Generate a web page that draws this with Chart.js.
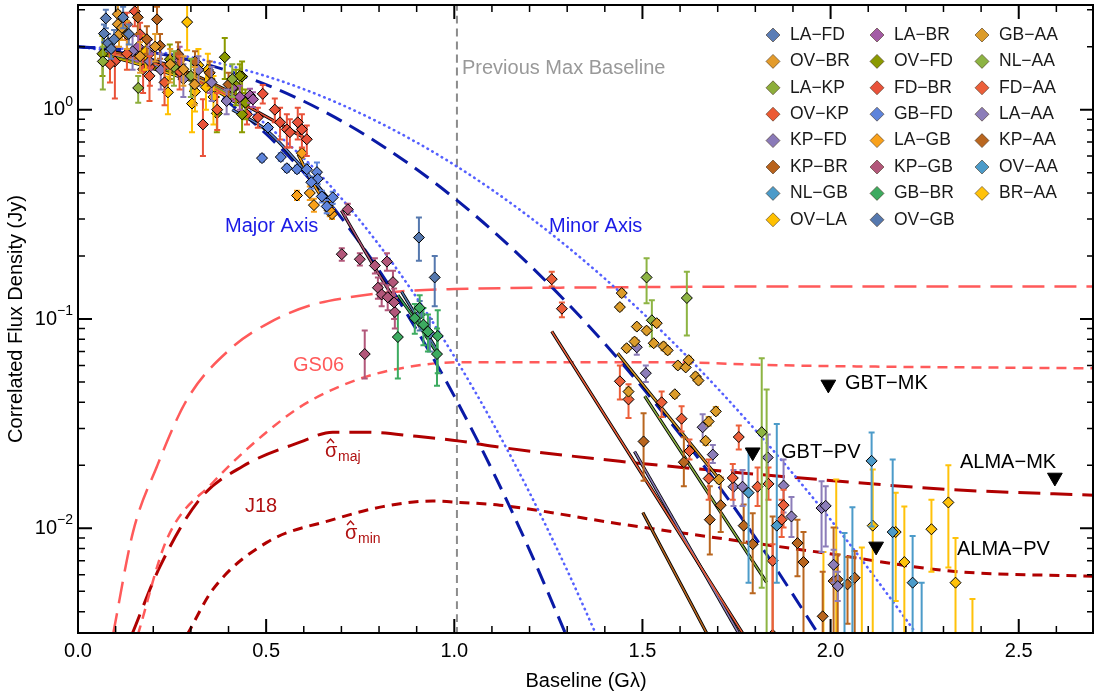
<!DOCTYPE html>
<html>
<head>
<meta charset="utf-8">
<script src="https://cdn.jsdelivr.net/npm/chart.js@4.4.0/dist/chart.umd.min.js"></script>
<style>
  html, body { margin: 0; padding: 0; background: #fff; }
  #wrap { width: 1094px; height: 694px; }
</style>
</head>
<body>
<div id="wrap"><canvas id="flux" width="1094" height="694"></canvas></div>
<script>
// ---------- data: [baseline (Gλ), flux (Jy), bar low, bar high] ----------
const LA_FD = [[0.074,2.73,2.45,3.0],[0.069,2.31,2.1,2.55],[0.080,2.08,1.9,2.3],[0.120,2.76,2.45,3.1],[0.096,2.17,1.95,2.4],[0.088,1.95,1.75,2.15],[0.135,2.30,2.05,2.55]];
const OV_BR = [[0.106,2.86,2.4,3.4],[0.106,2.56,2.2,2.95],[0.109,2.29,2.0,2.6],[0.117,2.46,2.15,2.8],[0.130,2.29,1.95,2.65],[0.205,2.00,1.7,2.3],[0.245,1.65,1.35,1.95],[0.280,1.56,1.3,1.8],[0.165,1.80,1.5,2.1],[0.310,1.32,1.05,1.6]];
const LA_KP = [[0.066,1.70,1.25,2.0],[0.160,1.27,1.08,1.45],[0.300,1.45,1.15,1.75],[0.255,1.60,1.3,1.9],[0.410,1.40,1.15,1.65]];
const OV_KP = [[0.085,1.65,1.35,1.95],[0.130,1.85,1.55,2.15],[0.190,1.45,1.1,1.8],[0.230,1.35,1.05,1.65],[0.370,1.00,0.8,1.2],[0.270,1.52,1.25,1.8]];
const KP_FD = [[0.145,1.90,1.55,2.25],[0.190,1.70,1.4,2.0],[0.220,1.55,1.25,1.85],[0.280,1.40,1.15,1.65],[0.320,1.55,1.3,1.8],[0.395,1.10,0.95,1.25],[0.355,1.35,1.1,1.6]];
const KP_BR = [[0.210,2.70,2.3,3.1],[0.159,2.76,2.3,3.3],[0.183,2.17,1.85,2.5],[0.218,2.02,1.75,2.3],[0.266,1.84,1.6,2.1],[0.311,1.70,1.5,1.9],[0.350,1.50,1.3,1.7],[0.400,1.32,1.15,1.5]];
const NL_GB = [[1.782,0.0148,0.0055,0.0238],[1.857,0.0103,0.0055,0.0315],[2.037,0.0028,0.001,0.0095],[2.058,0.0028,0.001,0.0126]];
const OV_LA = [[0.290,2.62,1.92,3.5],[0.239,1.21,0.95,1.44],[0.303,1.07,0.78,1.23],[0.311,1.22,0.98,1.45],[0.320,1.63,1.3,1.95],[0.345,1.55,1.25,1.85],[0.340,1.28,1.0,1.55],[0.360,1.15,0.85,1.45],[0.180,1.90,1.55,2.25]];
const LA_BR = [[0.160,2.00,1.7,2.3],[0.190,1.85,1.55,2.15],[0.270,1.72,1.45,2.0],[0.350,1.40,1.2,1.6],[0.410,1.27,1.1,1.45],[0.430,1.15,1.0,1.3],[0.457,1.17,1.08,1.26],[0.465,1.12,1.03,1.21]];
const OV_FD = [[0.390,1.78,1.4,2.2],[0.436,1.44,1.2,1.7],[0.369,0.96,0.78,1.15],[0.436,0.95,0.78,1.12],[0.244,1.74,1.4,2.05],[0.065,1.85,1.45,2.25],[0.420,1.30,1.05,1.55],[0.445,1.08,0.9,1.25],[0.430,1.45,1.25,1.65]];
const FD_BR = [[0.151,2.95,2.5,3.4],[0.130,2.56,2.2,2.9],[0.165,2.29,1.95,2.6],[0.173,1.56,1.2,1.9],[0.191,1.60,1.3,1.9],[0.098,1.70,1.13,2.0],[0.332,0.85,0.6,1.12],[0.449,0.95,0.85,1.1],[0.478,0.92,0.82,1.02],[0.491,1.19,1.07,1.31],[0.523,1.00,0.87,1.13],[0.537,0.87,0.72,1.02],[0.555,0.805,0.66,0.95],[0.563,0.78,0.66,0.9],[0.584,0.87,0.72,1.02],[0.595,0.805,0.66,0.95],[0.608,0.722,0.6,0.84]];
const GB_FD = [[0.489,0.587,0.565,0.61],[0.539,0.594,0.57,0.62],[0.555,0.525,0.505,0.545],[0.582,0.519,0.5,0.54],[0.608,0.519,0.49,0.55],[0.635,0.503,0.45,0.56],[0.637,0.467,0.44,0.495],[0.648,0.385,0.36,0.41],[0.677,0.381,0.355,0.405],[0.661,0.345,0.32,0.37],[0.505,0.822,0.79,0.85],[0.620,0.450,0.42,0.48]];
const LA_GB = [[0.595,0.62,0.59,0.65],[0.616,0.40,0.37,0.43],[0.582,0.389,0.37,0.41],[0.627,0.35,0.325,0.375],[0.664,0.345,0.325,0.365],[0.675,0.317,0.3,0.335],[0.669,0.33,0.31,0.35]];
const KP_GB = [[0.717,0.334,0.315,0.355],[0.701,0.204,0.19,0.218],[0.749,0.193,0.18,0.206],[0.789,0.180,0.165,0.195],[0.821,0.188,0.17,0.206],[0.797,0.141,0.125,0.158],[0.807,0.131,0.115,0.148],[0.823,0.127,0.11,0.145],[0.837,0.150,0.13,0.17],[0.842,0.108,0.09,0.126],[0.762,0.068,0.052,0.088],[0.840,0.120,0.1,0.14]];
const GB_BR = [[0.850,0.082,0.052,0.108],[0.895,0.101,0.085,0.118],[0.908,0.113,0.095,0.13],[0.930,0.087,0.07,0.105],[0.956,0.083,0.055,0.11],[0.954,0.068,0.048,0.09],[0.918,0.094,0.075,0.113]];
const OV_GB = [[0.906,0.245,0.19,0.305],[0.948,0.158,0.115,0.2],[0.908,0.105,0.088,0.122],[0.935,0.085,0.07,0.1]];
const GB_AA = [[1.445,0.133,0.128,0.138],[1.440,0.114,0.11,0.118],[1.485,0.092,0.089,0.095],[1.511,0.088,0.085,0.091],[1.479,0.078,0.075,0.081],[1.458,0.0725,0.07,0.075],[1.530,0.0766,0.074,0.079],[1.538,0.0955,0.092,0.099],[1.556,0.074,0.071,0.077],[1.567,0.0708,0.068,0.073],[1.594,0.060,0.058,0.062],[1.615,0.0587,0.057,0.061],[1.623,0.0636,0.061,0.066],[1.641,0.0532,0.051,0.055],[1.649,0.0508,0.049,0.053],[1.586,0.0437,0.042,0.045],[1.695,0.0362,0.035,0.038],[1.676,0.0324,0.031,0.034],[1.463,0.045,0.043,0.047],[1.668,0.0262,0.025,0.027],[1.703,0.0171,0.0165,0.0178]];
const NL_AA = [[1.511,0.158,0.119,0.195],[1.525,0.0986,0.074,0.123],[1.618,0.126,0.0834,0.168],[1.817,0.0288,0.0052,0.065],[1.830,0.0026,0.0005,0.046]];
const FD_AA = [[1.259,0.155,0.143,0.168],[1.286,0.112,0.102,0.120],[1.440,0.0504,0.0413,0.060],[1.463,0.0413,0.0337,0.0488],[1.551,0.040,0.034,0.045],[1.604,0.0334,0.029,0.0383],[1.625,0.0234,0.0213,0.0266],[1.676,0.0173,0.0137,0.0213],[1.740,0.0174,0.0137,0.0203],[1.756,0.0273,0.0238,0.031],[1.806,0.0158,0.0128,0.0195],[1.835,0.0163,0.0137,0.0195],[1.846,0.0070,0.0029,0.0084],[1.870,0.0110,0.0091,0.0137],[1.875,0.0129,0.0101,0.0153]];
const LA_AA = [[1.485,0.0733,0.0675,0.079],[1.509,0.0551,0.050,0.060],[1.660,0.0304,0.026,0.0351],[1.687,0.0225,0.0205,0.025],[1.742,0.0158,0.0128,0.019],[1.766,0.0158,0.0128,0.019],[1.833,0.0218,0.0168,0.0281],[1.875,0.016,0.0119,0.0213],[1.896,0.0114,0.0091,0.0141],[1.976,0.0125,0.0077,0.0168],[1.987,0.0128,0.0082,0.0159],[2.008,0.0067,0.0055,0.0079],[2.019,0.0053,0.0045,0.0062]];
const KP_AA = [[1.503,0.026,0.0169,0.0355],[1.610,0.0207,0.0159,0.0272],[1.679,0.011,0.0075,0.0159],[1.708,0.0129,0.0096,0.0175],[1.769,0.0103,0.0085,0.013],[1.793,0.0084,0.0049,0.0118],[1.912,0.0085,0.0059,0.011],[1.928,0.0069,0.003,0.0096],[1.846,0.0031,0.001,0.0114],[1.979,0.0038,0.002,0.0062],[2.008,0.0056,0.002,0.0101],[2.019,0.0057,0.002,0.0075],[2.045,0.0054,0.0035,0.0073],[2.064,0.0058,0.003,0.0078]];
const OV_AA = [[2.109,0.021,0.0102,0.0287],[2.165,0.0096,0.002,0.0213],[2.218,0.0055,0.002,0.0092],[2.242,0.0028,0.001,0.0055]];
const BR_AA = [[2.112,0.0103,0.002,0.0191],[2.173,0.0096,0.0045,0.0148],[2.196,0.0069,0.002,0.0127],[2.268,0.0099,0.0062,0.0137],[2.313,0.0133,0.0065,0.020],[2.332,0.0055,0.002,0.009],[1.981,0.0028,0.001,0.0077],[2.083,0.0028,0.001,0.0081],[2.377,0.0028,0.001,0.0046],[2.015,0.0028,0.001,0.0171]];

const baselineNames = ['LA−FD','OV−BR','LA−KP','OV−KP','KP−FD','KP−BR','NL−GB','OV−LA',
                       'LA−BR','OV−FD','FD−BR','GB−FD','LA−GB','KP−GB','GB−BR','OV−GB',
                       'GB−AA','NL−AA','FD−AA','LA−AA','KP−AA','OV−AA','BR−AA'];
const baselineColors = ['#5b7db5','#e39b2b','#8dae3b','#ec5a33','#8a7ab8','#b8631d','#4c9bc9','#ffc000',
                        '#a35ba5','#8b9a00','#e9523a','#5e84db','#f9a11b','#b2577a','#3dab60','#5578ae',
                        '#dc9c2a','#8db443','#ec5f3a','#8c7db9','#b9661f','#4c9bc9','#ffc20a'];
const baselinePoints = [LA_FD, OV_BR, LA_KP, OV_KP, KP_FD, KP_BR, NL_GB, OV_LA,
                        LA_BR, OV_FD, FD_BR, GB_FD, LA_GB, KP_GB, GB_BR, OV_GB,
                        GB_AA, NL_AA, FD_AA, LA_AA, KP_AA, OV_AA, BR_AA];

// per-baseline model tracks [baseline, flux]
const trackFDBR = [[0.06,1.90],[0.18,1.72],[0.30,1.42],[0.40,1.16],[0.48,0.97],[0.61,0.72]];
const trackKPBR = [[0.06,1.93],[0.18,1.76],[0.30,1.49],[0.42,1.18]];
const trackOVBR = [[0.06,1.88],[0.18,1.70],[0.30,1.45],[0.40,1.17]];
const trackOVFD = [[0.06,1.85],[0.20,1.60],[0.36,1.30],[0.45,1.02]];
const trackOVLA = [[0.07,1.83],[0.20,1.57],[0.36,1.25],[0.42,1.08]];
const trackKPFD = [[0.08,1.86],[0.20,1.63],[0.33,1.38],[0.42,1.15]];
const trackGBFD = [[0.41,1.00],[0.50,0.80],[0.58,0.57],[0.68,0.35]];
const trackLAGB = [[0.585,0.61],[0.62,0.46],[0.675,0.32]];
const trackKPGB = [[0.70,0.33],[0.77,0.20],[0.84,0.125]];
const trackGBBR = [[0.85,0.13],[0.90,0.097],[0.956,0.068]];
const trackOVGB = [[0.86,0.135],[0.956,0.07]];
const trackFDAA = [[1.259,0.0873],[1.769,0.0031]];
const trackLAAA = [[1.479,0.0233],[1.758,0.0031]];
const trackKPAA = [[1.501,0.0119],[1.673,0.0031]];
const trackGBAA = [[1.434,0.0686],[1.705,0.0171]];
const trackNLAA = [[1.506,0.0428],[1.830,0.00552]];
const trackList = [[trackFDBR,'FD−BR'],[trackKPBR,'KP−BR'],[trackOVBR,'OV−BR'],[trackOVFD,'OV−FD'],[trackOVLA,'OV−LA'],
                   [trackKPFD,'KP−FD'],[trackGBFD,'GB−FD'],[trackLAGB,'LA−GB'],[trackKPGB,'KP−GB'],[trackGBBR,'GB−BR'],
                   [trackOVGB,'OV−GB'],[trackFDAA,'FD−AA'],[trackLAAA,'LA−AA'],[trackKPAA,'KP−AA'],[trackGBAA,'GB−AA'],[trackNLAA,'NL−AA']];

// source models
const majorDash = [[0,2.0],[0.1,1.923],[0.2,1.715],[0.3,1.415],[0.4,1.081],[0.5,0.765],[0.6,0.501],[0.7,0.304],[0.8,0.171],[0.9,0.0887],[1.0,0.0428],[1.1,0.0191],[1.2,0.00787],[1.3,0.00301]];
const majorDot = [[0,2.0],[0.2,1.745],[0.4,1.16],[0.6,0.586],[0.7,0.377],[0.8,0.226],[0.9,0.1265],[1.0,0.0662],[1.1,0.0324],[1.2,0.0148],[1.3,0.0063],[1.4,0.00251]];
const minorDash = [[0,2.0],[0.2,1.871],[0.4,1.531],[0.6,1.097],[0.8,0.688],[1.0,0.378],[1.2,0.181],[1.4,0.0762],[1.6,0.0281],[1.8,0.00902],[2.0,0.00254]];
const minorDot = [[0,2.0],[0.2,1.898],[0.4,1.625],[0.6,1.253],[0.8,0.869],[1.0,0.545],[1.2,0.307],[1.4,0.156],[1.6,0.0716],[1.8,0.0295],[2.0,0.0110],[2.2,0.00368],[2.3,0.00205]];
const gs06Upper = [[0.093,0.0031],[0.146,0.00957],[0.210,0.0198],[0.290,0.0413],[0.404,0.0717],[0.510,0.0964],[0.616,0.116],[0.722,0.127],[0.855,0.1355],[1.0,0.139],[1.386,0.1416],[1.918,0.143],[2.7,0.143]];
const gs06Lower = [[0.159,0.0031],[0.236,0.00886],[0.359,0.0166],[0.544,0.0332],[0.624,0.0413],[0.768,0.0532],[0.927,0.0608],[1.015,0.0621],[1.564,0.0621],[1.865,0.0601],[2.7,0.0581]];
const j18Major = [[0.143,0.0031],[0.218,0.00658],[0.324,0.0138],[0.438,0.0198],[0.590,0.0258],[0.677,0.0288],[0.768,0.0288],[0.900,0.0275],[1.015,0.0261],[1.121,0.0244],[1.440,0.0209],[1.971,0.0171],[2.324,0.0153],[2.7,0.0144]];
const j18Minor = [[0.290,0.0031],[0.359,0.00512],[0.502,0.00857],[0.677,0.0110],[0.810,0.0127],[0.943,0.0135],[1.015,0.0133],[1.121,0.0129],[1.440,0.0105],[1.971,0.00768],[2.324,0.00624],[2.7,0.0059]];
const prevMaxBaseline = [[1.007,0.0031],[1.007,3.2]];

// upper limits
const limitNames = ['GBT−MK','GBT−PV','ALMA−MK','ALMA−PV'];
const limitPoints = [[1.994,0.0487],[1.793,0.0231],[2.596,0.0175],[2.121,0.0082]];

// axes
const xMajorTicks = [0, 0.5, 1.0, 1.5, 2.0, 2.5];
const xTickLabels = ['0.0', '0.5', '1.0', '1.5', '2.0', '2.5'];
const xMinorTicks = [0.1,0.2,0.3,0.4,0.6,0.7,0.8,0.9,1.1,1.2,1.3,1.4,1.6,1.7,1.8,1.9,2.1,2.2,2.3,2.4,2.6];
const yMajorTicks = [0.01, 0.1, 1];
const yExponents = ['−2', '−1', '0'];
const yMinorTicks = [0.004,0.005,0.006,0.007,0.008,0.009,0.02,0.03,0.04,0.05,0.06,0.07,0.08,0.09,0.2,0.3,0.4,0.5,0.6,0.7,0.8,0.9,2,3];

const FONT = '"Liberation Sans", Arial, Helvetica, sans-serif';

// ---------- helpers ----------
const xy = arr => arr.map(([x, y]) => ({x, y}));
const withBars = arr => arr.map(([x, y, lo, hi]) => ({x, y, lo, hi}));
const colorOf = name => baselineColors[baselineNames.indexOf(name)];

function modelLine(data, color, width, dash, order) {
    return {
        type: 'line', data: xy(data), borderColor: color, borderWidth: width, borderDash: dash,
        pointRadius: 0, fill: false, cubicInterpolationMode: 'monotone', clip: 0, order: order
    };
}

const datasets = [];

// upper limit triangles on top
datasets.push({
    type: 'scatter', label: 'limits', data: xy(limitPoints), pointStyle: 'triangle', rotation: 180,
    pointRadius: 8.5, backgroundColor: '#000', borderColor: '#000', borderWidth: 1, order: -1
});

// measured points
baselinePoints.forEach((pts, i) => {
    datasets.push({
        type: 'scatter', label: baselineNames[i], data: withBars(pts), errorBars: true,
        barColor: baselineColors[i], pointStyle: 'rectRot', pointRadius: 5.5,
        backgroundColor: baselineColors[i], borderColor: '#000', borderWidth: 1, order: 0
    });
});

// baseline tracks (coloured line over a black outline)
trackList.forEach(([pts, name]) => {
    datasets.push(modelLine(pts, colorOf(name), 1.5, [], 5));
    datasets.push(modelLine(pts, '#000', 3.2, [], 6));
});

// models
const dotted = {borderCapStyle: 'round'};
datasets.push(modelLine(majorDash, '#0a1aa6', 3, [17, 9], 8));
datasets.push(modelLine(minorDash, '#0a1aa6', 3, [17, 9], 8));
datasets.push(Object.assign(modelLine(majorDot, '#5560ff', 2.6, [0.5, 5], 8), dotted));
datasets.push(Object.assign(modelLine(minorDot, '#5560ff', 2.6, [0.5, 5], 8), dotted));
datasets.push(modelLine(gs06Upper, '#ff5a5a', 2.5, [22, 10], 9));
datasets.push(modelLine(gs06Lower, '#ff5a5a', 2.5, [10, 7], 9));
datasets.push(modelLine(j18Major, '#b00000', 3, [22, 10], 9));
datasets.push(modelLine(j18Minor, '#b00000', 3, [10, 7], 9));
datasets.push(modelLine(prevMaxBaseline, '#8c8c8c', 2, [8, 5], 10));

// ---------- plugins ----------
const errorBars = {
    id: 'errorBars',
    beforeDatasetDraw(chart, args) {
        const ds = chart.data.datasets[args.index];
        if (!ds.errorBars) return;
        const {ctx, chartArea: a, scales: {x, y}} = chart;
        ctx.save();
        ctx.beginPath();
        ctx.rect(a.left, a.top, a.right - a.left, a.bottom - a.top);
        ctx.clip();
        ctx.strokeStyle = ds.barColor;
        ctx.lineWidth = 2;
        ds.data.forEach(p => {
            const px = x.getPixelForValue(p.x);
            const y0 = y.getPixelForValue(p.lo);
            const y1 = y.getPixelForValue(p.hi);
            ctx.beginPath();
            ctx.moveTo(px, y0); ctx.lineTo(px, y1);
            ctx.moveTo(px - 3, y0); ctx.lineTo(px + 3, y0);
            ctx.moveTo(px - 3, y1); ctx.lineTo(px + 3, y1);
            ctx.stroke();
        });
        ctx.restore();
    }
};

const frame = {
    id: 'frame',
    afterDatasetsDraw(chart) {
        const {ctx, chartArea: a, scales: {x, y}} = chart;
        ctx.save();
        ctx.strokeStyle = '#000';
        ctx.lineWidth = 2;
        ctx.strokeRect(a.left, a.top, a.right - a.left - 1, a.bottom - a.top);

        const tick = (vals, len, w) => {
            ctx.lineWidth = w;
            ctx.beginPath();
            vals.forEach(v => {
                const px = x.getPixelForValue(v);
                ctx.moveTo(px, a.bottom); ctx.lineTo(px, a.bottom - len);
                ctx.moveTo(px, a.top); ctx.lineTo(px, a.top + len);
            });
            ctx.stroke();
        };
        const ytick = (vals, len, w) => {
            ctx.lineWidth = w;
            ctx.beginPath();
            vals.forEach(v => {
                const py = y.getPixelForValue(v);
                ctx.moveTo(a.left, py); ctx.lineTo(a.left + len, py);
                ctx.moveTo(a.right, py); ctx.lineTo(a.right - len, py);
            });
            ctx.stroke();
        };
        tick(xMajorTicks, 14, 2);
        tick(xMinorTicks, 7, 1.5);
        ytick(yMajorTicks, 14, 2);
        ytick(yMinorTicks, 7, 1.5);

        ctx.fillStyle = '#000';
        ctx.textBaseline = 'middle';

        // x tick labels
        ctx.textAlign = 'center';
        ctx.font = '20px ' + FONT;
        xMajorTicks.forEach((v, i) => {
            ctx.fillText(xTickLabels[i], x.getPixelForValue(v), a.bottom + 18);
        });

        // log tick labels 10^n
        ctx.textAlign = 'right';
        yMajorTicks.forEach((v, i) => {
            const py = y.getPixelForValue(v);
            const right = a.left - 5;
            ctx.font = '14px ' + FONT;
            ctx.fillText(yExponents[i], right, py - 8);
            const w = ctx.measureText(yExponents[i]).width;
            ctx.font = '20px ' + FONT;
            ctx.fillText('10', right - w, py);
        });
        ctx.restore();
    }
};

const legendBox = {
    id: 'legendBox',
    afterDraw(chart) {
        const {ctx} = chart;
        const colX = [773, 877, 982];
        ctx.save();
        ctx.font = '17.5px ' + FONT;
        ctx.textBaseline = 'middle';
        ctx.textAlign = 'left';
        baselineNames.forEach((name, i) => {
            const cx = colX[Math.floor(i / 8)];
            const cy = 35 + (i % 8) * 26.4;
            ctx.beginPath();
            ctx.moveTo(cx, cy - 7); ctx.lineTo(cx + 7, cy); ctx.lineTo(cx, cy + 7); ctx.lineTo(cx - 7, cy);
            ctx.closePath();
            ctx.fillStyle = baselineColors[i];
            ctx.fill();
            ctx.strokeStyle = 'rgba(60,40,20,0.55)';
            ctx.lineWidth = 1;
            ctx.stroke();
            ctx.fillStyle = '#1a1a1a';
            ctx.fillText(name, cx + 17, cy);
        });
        ctx.restore();
    }
};

const notes = {
    id: 'notes',
    afterDraw(chart) {
        const {ctx} = chart;
        ctx.save();
        ctx.textBaseline = 'middle';
        ctx.textAlign = 'left';
        ctx.font = '20px ' + FONT;
        const put = (t, x, y, c) => { ctx.fillStyle = c; ctx.fillText(t, x, y); };
        put('Previous Max Baseline', 462, 68, '#999999');
        put('Major Axis', 225, 226, '#1a1ae6');
        put('Minor Axis', 549, 226, '#1a1ae6');
        put('GS06', 293, 365, '#ff5a5a');
        put('J18', 245, 506, '#b01010');
        put(limitNames[0], 845, 383, '#000');
        put(limitNames[1], 781, 452, '#000');
        put(limitNames[2], 960, 462, '#000');
        put(limitNames[3], 957, 549, '#000');

        // sigma hats with subscripts
        const sigma = (x, y, sub) => {
            ctx.fillStyle = '#b01010';
            ctx.font = '20px ' + FONT;
            ctx.fillText('σ', x, y);
            ctx.strokeStyle = '#b01010';
            ctx.lineWidth = 1.4;
            ctx.beginPath();
            ctx.moveTo(x + 2, y - 8); ctx.lineTo(x + 5.5, y - 12); ctx.lineTo(x + 9, y - 8);
            ctx.stroke();
            ctx.font = '14px ' + FONT;
            ctx.fillText(sub, x + 13, y + 6);
        };
        sigma(325, 451, 'maj');
        sigma(345, 533, 'min');
        ctx.restore();
    }
};

new Chart(document.getElementById('flux'), {
    type: 'scatter',
    data: {datasets: datasets},
    options: {
        responsive: false,
        animation: false,
        events: [],
        layout: {autoPadding: false, padding: {top: 5, right: 0, left: 0, bottom: 0}},
        plugins: {legend: {display: false}, tooltip: {enabled: false}},
        scales: {
            x: {
                type: 'linear', min: 0, max: 2.7,
                grid: {display: false, drawTicks: false},
                border: {display: false},
                ticks: {display: false},
                title: {display: true, text: 'Baseline (Gλ)', color: '#000', font: {family: FONT, size: 20}, padding: {top: 2, bottom: 1}},
                afterFit(s) { s.height = 61; }
            },
            y: {
                type: 'logarithmic', min: 0.0031623, max: 3.1623,
                grid: {display: false, drawTicks: false},
                border: {display: false},
                ticks: {display: false},
                title: {display: true, text: 'Correlated Flux Density (Jy)', color: '#000', font: {family: FONT, size: 20}, padding: {top: 4, bottom: 0}},
                afterFit(s) { s.width = 78; }
            }
        }
    },
    plugins: [errorBars, frame, legendBox, notes]
});
</script>
</body>
</html>
